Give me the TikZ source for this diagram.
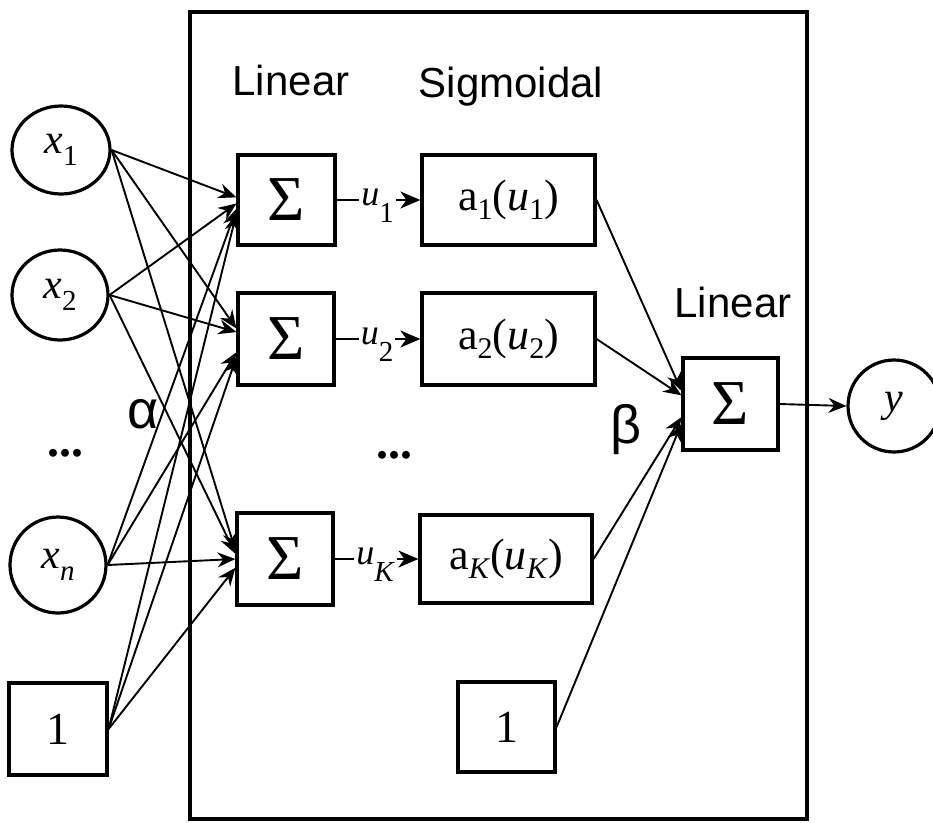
\documentclass[tikz,border=0pt]{standalone}
\usepackage{fontspec}
\setmainfont{Liberation Serif}
\newfontfamily\sansf{Liberation Sans}
\usetikzlibrary{arrows.meta,shapes.geometric}
\newcommand\fs[1]{\fontsize{#1}{#1}\selectfont}
\newcommand\lowsub[3]{\raisebox{-#1pt}{\fs{#2}#3}}
\begin{document}
\begin{tikzpicture}[x=1pt,y=-1pt,
  box/.style={draw, rectangle, line width=3.2pt, inner sep=0pt},
  circ/.style={draw, ellipse, line width=3.2pt, inner sep=0pt},
  conn/.style={line width=1.9pt, -{Stealth[length=18pt,width=15pt,inset=6pt]}},
  uarrow/.style={line width=1.9pt, -{Stealth[length=20pt,width=17pt,inset=6pt]}},
  ulab/.style={pos=0.49, anchor=base, yshift=-5pt, fill=white, inner sep=2pt, font=\fs{36}},
  lab/.style={font=\sansf\fs{42}, anchor=base},
  greek/.style={font=\sansf\fs{54}},
  dots/.style={font=\bfseries\fs{48}}
]
\useasboundingbox (0,0) rectangle (933,822);
\draw[line width=3.2pt] (190,12) rectangle (807,819);

% labels
\node[lab] (linL) at (291,95) {Linear};
\node[lab] (sigL) at (511,97) {Sigmoidal};
\node[lab] (linR) at (733,317) {Linear};
\node[greek] (alpha) at (143,414) {α};
\node[greek] (beta) at (626,430) {β};
\node[dots] (dotsL) at (65,453) {...};
\node[dots] (dotsM) at (394,455) {...};

% inputs
\node[circ, minimum width=98pt, minimum height=88pt] (x1) at (61,150)
  {{\fs{42}\itshape x}\lowsub{12}{29}{1}};
\node[circ, minimum width=96pt, minimum height=90pt] (x2) at (60,295)
  {{\fs{42}\itshape x}\lowsub{12}{29}{2}};
\node[circ, minimum width=96pt, minimum height=96pt] (xn) at (58,565)
  {{\fs{42}\itshape x}\lowsub{12}{29}{\itshape n}};
\node[box, minimum width=98pt, minimum height=92pt, font=\fs{46}] (b1) at (58,729) {1};

% hidden sums
\node[box, minimum width=97pt, minimum height=90pt, font=\fs{64}] (S1) at (286.5,200) {Σ};
\node[box, minimum width=96pt, minimum height=92pt, font=\fs{64}] (S2) at (286,339) {Σ};
\node[box, minimum width=96pt, minimum height=92pt, font=\fs{64}] (SK) at (285,559) {Σ};

% sigmoids
\node[box, minimum width=173pt, minimum height=90pt, font=\fs{44}] (A1) at (508.5,200)
  {a\lowsub{9}{30}{1}(\textit{u}\lowsub{9}{30}{1})};
\node[box, minimum width=173pt, minimum height=92pt, font=\fs{44}] (A2) at (508.5,339)
  {a\lowsub{9}{30}{2}(\textit{u}\lowsub{9}{30}{2})};
\node[box, minimum width=172pt, minimum height=88pt, font=\fs{44}] (AK) at (506,559)
  {a\lowsub{9}{30}{\textit{K}}(\textit{u}\lowsub{9}{30}{\textit{K}})};
\node[box, minimum width=97pt, minimum height=90pt, font=\fs{46}] (b2) at (506.5,727) {1};

% output
\node[box, minimum width=95pt, minimum height=92pt, font=\fs{64}] (SO) at (730.5,404) {Σ};
\node[circ, minimum width=92pt, minimum height=92pt] (y) at (894,406) {\fs{42}\itshape y};

% input connections
\draw[conn] (x1.east) -- (S1.177);
\draw[conn] (x2.east) -- (S1.184);
\draw[conn] (xn.east) -- (S1.190);
\draw[conn] (b1.east) -- (S1.195);
\draw[conn] (x1.east) -- (S2.168);
\draw[conn] (x2.east) -- (S2.172);
\draw[conn] (xn.east) -- (S2.195);
\draw[conn] (b1.east) -- (S2.200);
\draw[conn] (x1.east) -- (SK.170);
\draw[conn] (x2.east) -- (SK.174);
\draw[conn] (xn.east) -- (SK.180);
\draw[conn] (b1.east) -- (SK.190);

% u connections
\draw[uarrow] (S1.east) -- node[ulab] (u1) {\textit{u}\lowsub{17}{29}{1}} (A1.west);
\draw[uarrow] (S2.east) -- node[ulab] (u2) {\textit{u}\lowsub{17}{29}{2}} (A2.west);
\draw[uarrow] (SK.east) -- node[ulab] (uK) {\textit{u}\lowsub{17}{29}{\textit{K}}} (AK.west);

% output connections
\draw[conn] (A1.east) -- (SO.165);
\draw[conn] (A2.east) -- (SO.170);
\draw[conn] (AK.east) -- (SO.195);
\draw[conn] (b2.east) -- (SO.202);
\draw[conn] (SO.east) -- (y.west);
\end{tikzpicture}
\end{document}
